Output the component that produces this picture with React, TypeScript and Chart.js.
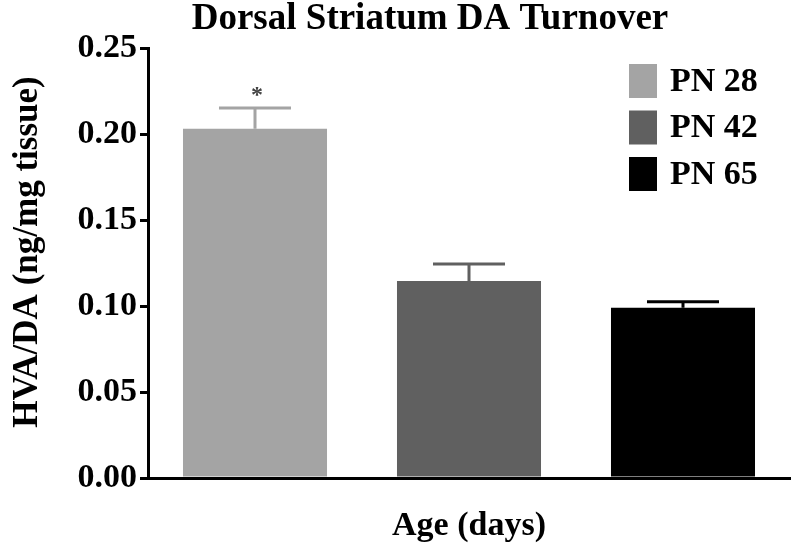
import { useEffect, useRef } from 'react';
import { Chart, registerables } from 'chart.js';
Chart.register(...registerables);

const categories = ['PN 28', 'PN 42', 'PN 65'];
const means = [0.203, 0.1145, 0.099];
const sems = [0.0121, 0.0099, 0.0035];
const yTickValues = [0, 0.05, 0.1, 0.15, 0.2, 0.25];
const colors = ['#a4a4a4', '#606060', '#000000'];
const significance = ['*', '', ''];
const chartTitle = 'Dorsal Striatum DA Turnover';
const yTitle = 'HVA/DA (ng/mg tissue)';
const xTitle = 'Age (days)';

const SERIF = '"Liberation Serif", "Times New Roman", serif';

const overlay = {
  id: 'overlay',
  afterDatasetsDraw(chart: any) {
    const ctx = chart.ctx;
    const meta = chart.getDatasetMeta(0);
    const y = chart.scales.y;
    meta.data.forEach((bar: any, i: number) => {
      const top = y.getPixelForValue(means[i] + sems[i]);
      const base = y.getPixelForValue(means[i]);
      const half = bar.width / 4;
      ctx.save();
      ctx.strokeStyle = colors[i];
      ctx.lineWidth = 3;
      ctx.beginPath();
      ctx.moveTo(bar.x, base);
      ctx.lineTo(bar.x, top);
      ctx.moveTo(bar.x - half, top);
      ctx.lineTo(bar.x + half, top);
      ctx.stroke();
      if (significance[i]) {
        ctx.fillStyle = '#444';
        ctx.font = 'bold 24px ' + SERIF;
        ctx.textAlign = 'center';
        ctx.textBaseline = 'middle';
        ctx.fillText(significance[i], bar.x + 2, top - 12);
      }
      ctx.restore();
    });
  },
  afterDraw(chart: any) {
    const ctx = chart.ctx;
    const area = chart.chartArea;
    ctx.save();
    // title
    ctx.fillStyle = '#000';
    ctx.font = 'bold 37px ' + SERIF;
    ctx.textAlign = 'center';
    ctx.textBaseline = 'middle';
    ctx.fillText(chartTitle, 430, 19);
    // y-axis title
    ctx.save();
    ctx.translate(28, area.top + (area.bottom - area.top) / 2 - 11);
    ctx.rotate(-Math.PI / 2);
    ctx.font = 'bold 35px ' + SERIF;
    ctx.textAlign = 'center';
    ctx.textBaseline = 'middle';
    ctx.fillText(yTitle, 0, 0);
    ctx.restore();
    // legend
    const boxX = area.right - 161;
    const startY = 64;
    const step = 46.5;
    categories.forEach((c, i) => {
      const yy = startY + i * step;
      ctx.fillStyle = colors[i];
      ctx.fillRect(boxX, yy, 28, 34);
      ctx.fillStyle = '#000';
      ctx.font = 'bold 34px ' + SERIF;
      ctx.textAlign = 'left';
      ctx.textBaseline = 'middle';
      ctx.fillText(c, boxX + 41, yy + 18);
    });
    ctx.restore();
  },
};

export default function App() {
  const ref = useRef<HTMLCanvasElement>(null);
  useEffect(() => {
    document.body.style.margin = '0';
    const chart = new Chart(ref.current as HTMLCanvasElement, {
      type: 'bar',
      data: {
        labels: categories,
        datasets: [
          {
            data: means,
            backgroundColor: colors,
            borderWidth: 0,
            barPercentage: 0.673,
            categoryPercentage: 1,
          },
        ],
      },
      options: {
        responsive: false,
        animation: false,
        layout: { padding: { top: 48, right: 10, left: 0, bottom: 0 } },
        plugins: { legend: { display: false }, title: { display: false }, tooltip: { enabled: false } },
        scales: {
          x: {
            offset: true,
            grid: { display: false, drawTicks: false },
            border: { display: true, color: '#000', width: 3 },
            ticks: { display: false },
            title: {
              display: true,
              text: xTitle,
              color: '#000',
              font: { family: SERIF, size: 34, weight: 'bold' },
              padding: { top: 30, bottom: 8 },
            },
            afterFit(scale: any) {
              scale.height = 77;
            },
          },
          y: {
            min: 0,
            max: 0.25,
            afterBuildTicks(scale: any) {
              scale.ticks = yTickValues.map((v) => ({ value: v }));
            },
            grid: { drawOnChartArea: false, drawTicks: true, tickLength: 8, color: '#000', lineWidth: 3 },
            border: { display: true, color: '#000', width: 3 },
            ticks: {
              color: '#000',
              padding: 3,
              font: { family: SERIF, size: 34, weight: 'bold' },
              callback: (v: any) => Number(v).toFixed(2),
            },
            title: { display: false, text: yTitle },
            afterFit(scale: any) {
              scale.width = 148;
            },
          },
        },
      },
      plugins: [overlay],
    });
    return () => chart.destroy();
  }, []);
  return (
    <div style={{ position: 'absolute', left: 0, top: 0, width: 800, height: 555, background: '#fff' }}>
      <canvas ref={ref} width={800} height={555} />
    </div>
  );
}
